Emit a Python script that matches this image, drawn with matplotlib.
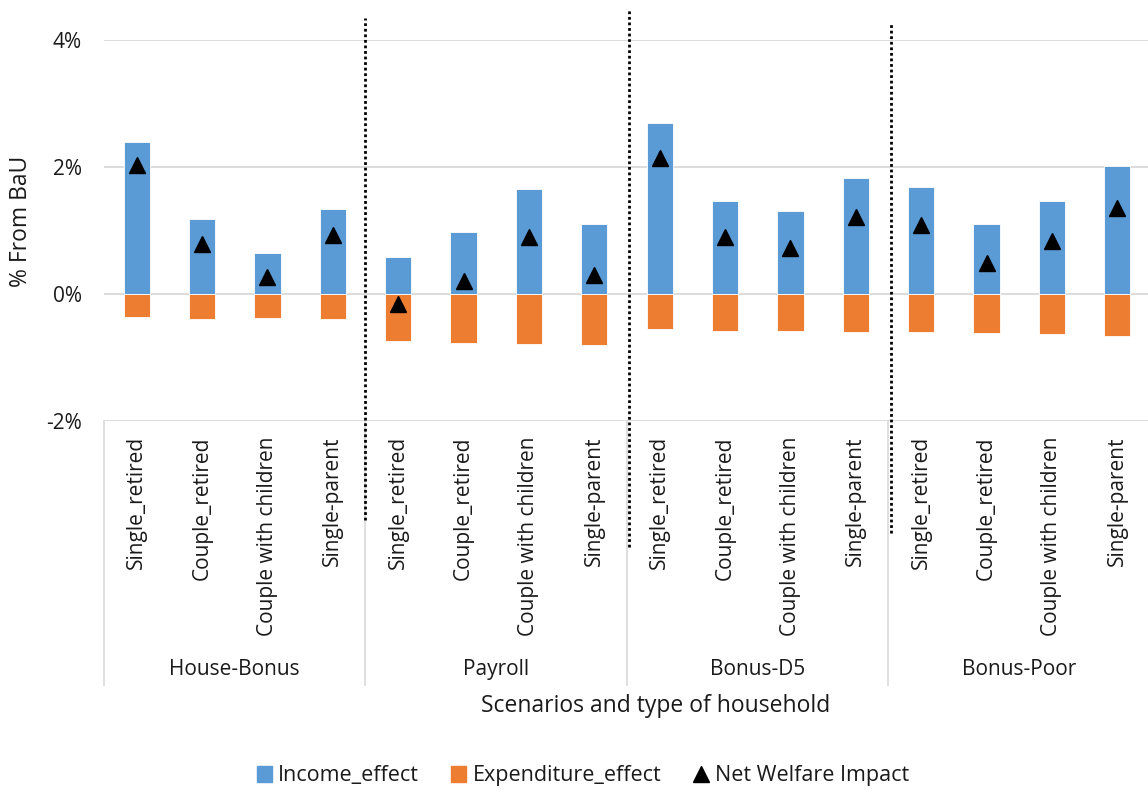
import matplotlib
matplotlib.use("Agg")
import matplotlib.pyplot as plt
import matplotlib.transforms as mtransforms
from matplotlib.patches import Patch
from matplotlib.lines import Line2D
import numpy as np

plt.rcParams["font.family"] = ["Open Sans", "DejaVu Sans"]

scenarios = ["House-Bonus", "Payroll", "Bonus-D5", "Bonus-Poor"]
households = ["Single_retired", "Couple_retired", "Couple with children", "Single-parent"]

# values in % from BaU, four households per scenario
income_effect = [2.40, 1.18, 0.65, 1.34,
                 0.59, 0.97, 1.66, 1.10,
                 2.69, 1.47, 1.30, 1.82,
                 1.69, 1.11, 1.46, 2.02]
expenditure_effect = [-0.36, -0.39, -0.38, -0.40,
                      -0.74, -0.77, -0.78, -0.80,
                      -0.55, -0.58, -0.58, -0.60,
                      -0.60, -0.62, -0.63, -0.66]
net_welfare = [2.03, 0.79, 0.27, 0.93,
               -0.15, 0.20, 0.89, 0.30,
               2.14, 0.90, 0.72, 1.22,
               1.09, 0.49, 0.83, 1.35]

BLUE = "#5B9BD5"
ORANGE = "#ED7D31"
GRID = "#D9D9D9"
TEXT = "#1A1A1A"

W, H = 1148, 792
fig = plt.figure(figsize=(W / 100, H / 100), dpi=100)
ax = fig.add_axes([104 / W, 1 - 421 / H, (1150 - 104) / W, (421 - 40) / H])

x = np.arange(len(income_effect))
ax.bar(x, income_effect, width=0.40, color=BLUE, edgecolor="white", linewidth=0.6, zorder=2)
ax.bar(x, expenditure_effect, width=0.40, color=ORANGE, edgecolor="white", linewidth=0.6, zorder=2)
ax.plot(x, net_welfare, linestyle="none", marker="^", markersize=11, color="black", zorder=3)

ax.set_xlim(-0.5, len(x) - 0.5)
ax.set_ylim(-2, 4)
ax.set_yticks([-2, 0, 2, 4])
ax.set_yticklabels([f"{v}%" for v in [-2, 0, 2, 4]])
ax.grid(axis="y", color=GRID, linewidth=1.3, zorder=0)
ax.set_axisbelow(True)
for spine in ax.spines.values():
    spine.set_visible(False)

ax.set_xticks(x)
ax.set_xticklabels(households * len(scenarios), rotation=90, va="top", ha="center")
ax.tick_params(axis="x", length=0, pad=11, labelsize=15, labelcolor=TEXT)
ax.tick_params(axis="y", length=0, pad=16, labelsize=15, labelcolor=TEXT)

ax.set_ylabel("% From BaU", fontsize=16.5, color=TEXT)
ax.yaxis.set_label_coords(-0.068, 0.525)

trans = mtransforms.blended_transform_factory(ax.transData, ax.transAxes)

# group boundaries below the category axis
for b in np.arange(-0.5, len(x), 4):
    ax.plot([b, b], [0, -0.693], color=GRID, linewidth=1.2, transform=trans, clip_on=False)
for i, name in enumerate(scenarios):
    ax.text(i * 4 + 1.5, -0.653, name, transform=trans, ha="center", va="center",
            fontsize=15, color=TEXT)

# dotted separators between scenarios
for xs, top, bottom in [(3.5, 1.058, -0.26), (7.53, 1.079, -0.331), (11.54, 1.045, -0.294)]:
    ax.plot([xs, xs], [bottom, top], color="black", linestyle=(0, (1, 1)), linewidth=2,
            transform=trans, clip_on=False, zorder=4)

fig.text(656 / W, 1 - 706 / H, "Scenarios and type of household", ha="center", va="center",
         fontsize=16.5, color=TEXT)

handles = [Patch(color=BLUE), Patch(color=ORANGE),
           Line2D([], [], linestyle="none", marker="^", markersize=11, color="black")]
fig.legend(handles, ["Income_effect", "Expenditure_effect", "Net Welfare Impact"],
           loc="center", bbox_to_anchor=(583 / W, 1 - 776 / H), ncol=3, frameon=False,
           fontsize=15.5, handlelength=0.7, handleheight=0.7, handletextpad=0.3,
           columnspacing=1.5, labelcolor=TEXT)

fig.savefig("out.png", dpi=100)
